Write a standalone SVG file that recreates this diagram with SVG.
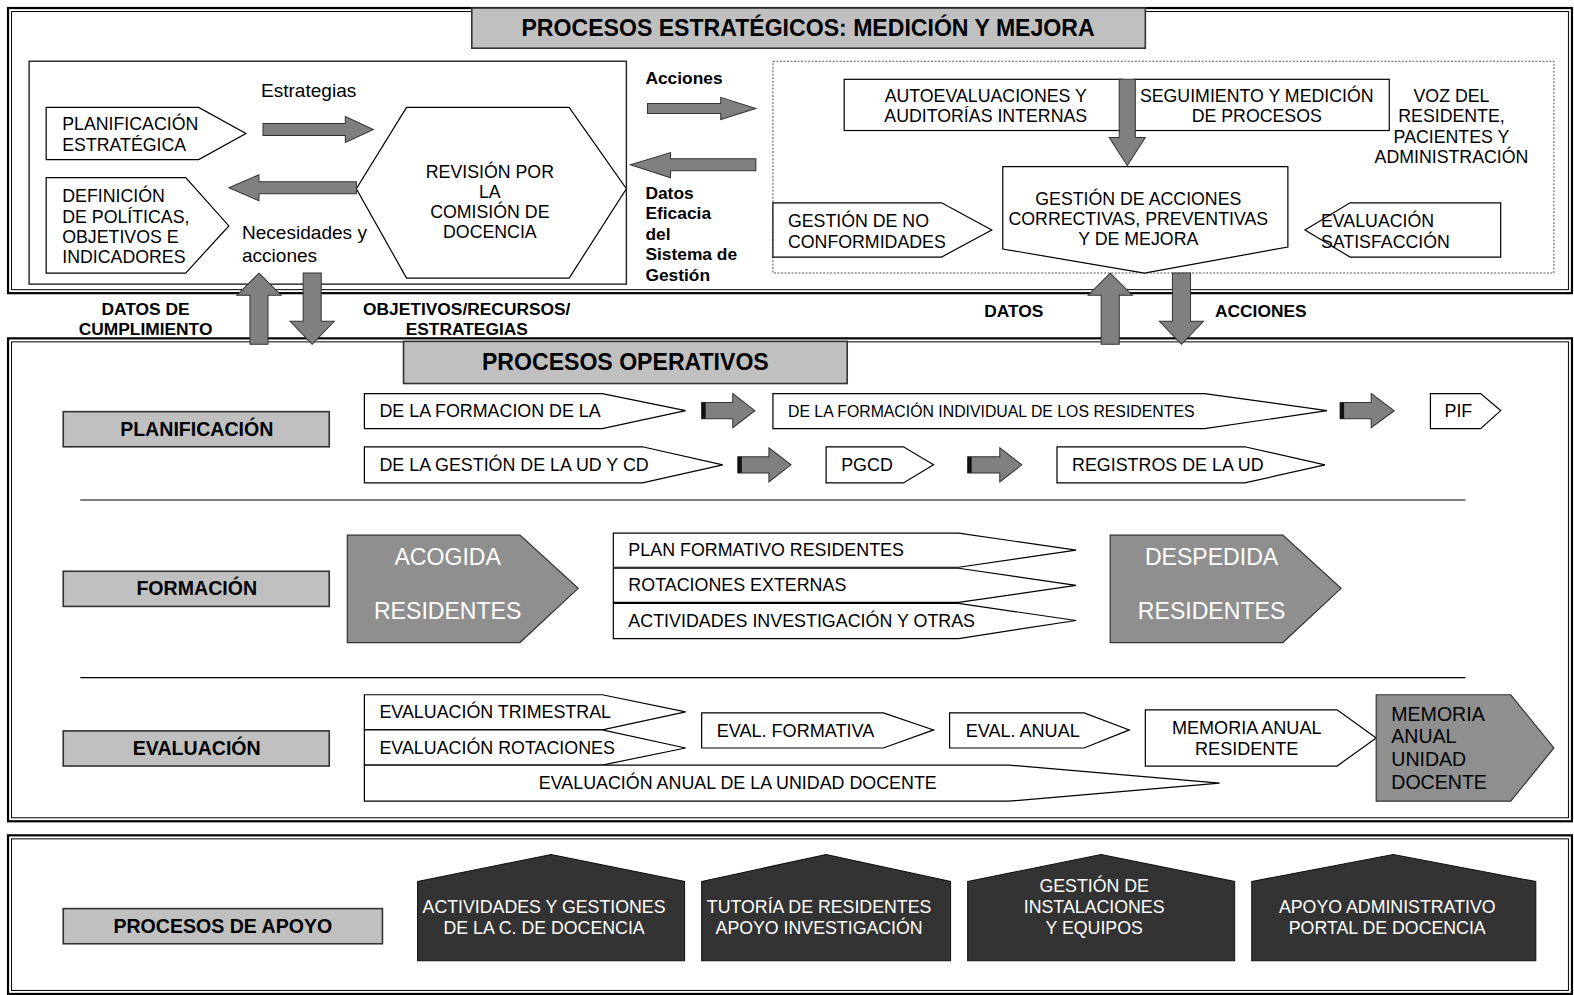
<svg xmlns="http://www.w3.org/2000/svg" width="1574" height="995" viewBox="0 0 1574 995">
<style>
.t{font-family:"Liberation Sans",Arial,sans-serif;font-size:17.7px;fill:#000}
.b{font-weight:bold}
.c{text-anchor:middle}
.s{font-size:17.8px}
.h{font-size:23px}
.lb{font-size:19.5px}
.bl{font-size:17.3px}
.box{fill:#fff;stroke:#000;stroke-width:1.2}
.lbl{fill:#c0c0c0;stroke:#333;stroke-width:1.6}
.arr{fill:#808080;stroke:#333;stroke-width:1}
.mid{fill:#8f8f8f;stroke:#333;stroke-width:1.2}
.dark{fill:#333;stroke:#111;stroke-width:1}
.fo{fill:none;stroke:#000;stroke-width:2.2}
.fi{fill:none;stroke:#000;stroke-width:1}
.sep{stroke:#000;stroke-width:1.2}
.w{fill:#fff}
</style>
<rect width="1574" height="995" fill="#fff"/>
<g transform="scale(1.0038,1.004)">
<!-- frames -->
<g id="frames">
<rect class="fo" x="8" y="8" width="1558" height="284"/>
<rect class="fi" x="11.5" y="11.5" width="1551" height="277"/>
<rect class="fo" x="8" y="337" width="1558" height="481"/>
<rect class="fi" x="11.5" y="340.5" width="1551" height="474"/>
<rect class="fo" x="8" y="832" width="1558" height="158"/>
<rect class="fi" x="11.5" y="835.5" width="1551" height="151"/>
</g>

<g id="titulo-estrategicos">
<rect class="lbl" x="470" y="8" width="671" height="40"/>
<text class="t b c h" x="805" y="36">PROCESOS ESTRATÉGICOS: MEDICIÓN Y MEJORA</text>
</g>

<g id="caja-izquierda">
<rect fill="none" stroke="#222" stroke-width="1.4" x="29" y="61" width="595" height="222"/>
<text class="t" x="260" y="97" style="font-size:19px">Estrategias</text>
<text class="t" x="241" y="238" style="font-size:19px">Necesidades y</text>
<text class="t" x="241" y="261" style="font-size:19px">acciones</text>
</g>

<g id="planificacion-estrategica">
<polygon class="box" points="46,107 198,107 245,133 198,159 46,159"/>
<text class="t" x="62" y="129">PLANIFICACIÓN</text>
<text class="t" x="62" y="150">ESTRATÉGICA</text>
</g>

<g id="definicion">
<polygon class="box" points="46,177 185,177 228,225 185,272 46,272"/>
<text class="t" x="62" y="201">DEFINICIÓN</text>
<text class="t" x="62" y="222">DE POLÍTICAS,</text>
<text class="t" x="62" y="242">OBJETIVOS E</text>
<text class="t" x="62" y="262">INDICADORES</text>
</g>

<g id="revision">
<polygon class="box" points="405,107 567,107 624,188 567,277 405,277 355,188"/>
<text class="t c" x="488" y="177">REVISIÓN POR</text>
<text class="t c" x="488" y="197">LA</text>
<text class="t c" x="488" y="217">COMISIÓN DE</text>
<text class="t c" x="488" y="237">DOCENCIA</text>
</g>

<g id="textos-centro">
<text class="t b bl" x="643" y="84">Acciones</text>
<text class="t b bl" x="643" y="198">Datos</text>
<text class="t b bl" x="643" y="218">Eficacia</text>
<text class="t b bl" x="643" y="239">del</text>
<text class="t b bl" x="643" y="259">Sistema de</text>
<text class="t b bl" x="643" y="280">Gestión</text>
</g>

<g id="caja-derecha">
<rect fill="none" stroke="#555" stroke-width="1" stroke-dasharray="2,1.5" x="770" y="61" width="778" height="211"/>
</g>

<g id="autoevaluaciones">
<rect class="box" x="841" y="79" width="277" height="51"/>
<text class="t c" x="982" y="102">AUTOEVALUACIONES Y</text>
<text class="t c" x="982" y="122">AUDITORÍAS INTERNAS</text>
</g>

<g id="seguimiento">
<rect class="box" x="1130" y="79" width="254" height="51"/>
<text class="t c" x="1252" y="102">SEGUIMIENTO Y MEDICIÓN</text>
<text class="t c" x="1252" y="122">DE PROCESOS</text>
</g>

<g id="voz">
<text class="t c" x="1446" y="102">VOZ DEL</text>
<text class="t c" x="1446" y="122">RESIDENTE,</text>
<text class="t c" x="1446" y="142">PACIENTES Y</text>
<text class="t c" x="1446" y="162">ADMINISTRACIÓN</text>
</g>

<g id="gestion-acciones">
<polygon class="box" points="999,166 1283,166 1283,246 1140,272 999,248"/>
<text class="t c" x="1134" y="204">GESTIÓN DE ACCIONES</text>
<text class="t c" x="1134" y="224">CORRECTIVAS, PREVENTIVAS</text>
<text class="t c" x="1134" y="244">Y DE MEJORA</text>
</g>

<g id="no-conformidades">
<polygon class="box" points="770,202 938,202 988,229 938,256 770,256"/>
<text class="t" x="785" y="226">GESTIÓN DE NO</text>
<text class="t" x="785" y="247">CONFORMIDADES</text>
</g>

<g id="satisfaccion">
<polygon class="box" points="1300,229 1345,202 1495,202 1495,256 1345,256"/>
<text class="t" x="1316" y="226">EVALUACIÓN</text>
<text class="t" x="1316" y="247">SATISFACCIÓN</text>
</g>

<g id="etiquetas-intermedias">
<text class="t b c bl" x="145" y="314">DATOS DE</text>
<text class="t b c bl" x="145" y="334">CUMPLIMIENTO</text>
<text class="t b c bl" x="465" y="314">OBJETIVOS/RECURSOS/</text>
<text class="t b c bl" x="465" y="334">ESTRATEGIAS</text>
<text class="t b c bl" x="1010" y="316">DATOS</text>
<text class="t b c bl" x="1256" y="316">ACCIONES</text>
</g>

<!-- operativos -->
<g id="titulo-operativos">
<rect class="lbl" x="402" y="340" width="442" height="42"/>
<text class="t b c h" x="623" y="369">PROCESOS OPERATIVOS</text>
</g>

<g id="lbl-planificacion">
<rect class="lbl" x="63" y="410" width="265" height="35"/>
<text class="t b c lb" x="196" y="434">PLANIFICACIÓN</text>
</g>
<g id="p-formacion-la">
<polygon class="box" points="363,392 600,392 683,409 600,427 363,427"/>
<text class="t s" x="378" y="415">DE LA FORMACION DE LA</text>
</g>
<g id="p-formacion-individual">
<polygon class="box" points="770,392 1200,392 1322,409 1200,427 770,427"/>
<text class="t" x="785" y="415" style="font-size:16.5px" textLength="405" lengthAdjust="spacingAndGlyphs">DE LA FORMACIÓN INDIVIDUAL DE LOS RESIDENTES</text>
</g>
<g id="p-pif">
<polygon class="box" points="1425,392 1475,392 1495,409 1475,427 1425,427"/>
<text class="t s" x="1439" y="415">PIF</text>
</g>
<g id="p-gestion-ud">
<polygon class="box" points="363,445 640,445 720,463 640,481 363,481"/>
<text class="t s" x="378" y="469">DE LA GESTIÓN DE LA UD Y CD</text>
</g>
<g id="p-pgcd">
<polygon class="box" points="823,445 900,445 930,463 900,481 823,481"/>
<text class="t s" x="838" y="469">PGCD</text>
</g>
<g id="p-registros">
<polygon class="box" points="1053,445 1240,445 1320,463 1240,481 1053,481"/>
<text class="t s" x="1068" y="469">REGISTROS DE LA UD</text>
</g>
<line class="sep" x1="80" y1="498" x2="1460" y2="498"/>

<g id="lbl-formacion">
<rect class="lbl" x="63" y="569" width="265" height="35"/>
<text class="t b c lb" x="196" y="593">FORMACIÓN</text>
</g>
<g id="acogida">
<polygon class="mid" points="346,533 518,533 576,586 518,640 346,640"/>
<text class="t c w h" x="446" y="563">ACOGIDA</text>
<text class="t c w h" x="446" y="617">RESIDENTES</text>
</g>
<g id="plan-formativo">
<polygon class="box" points="611,531 955,531 1072,548 955,565 611,565"/>
<text class="t s" x="626" y="554">PLAN FORMATIVO RESIDENTES</text>
</g>
<g id="rotaciones-externas">
<polygon class="box" points="611,566 955,566 1072,583 955,600 611,600"/>
<text class="t s" x="626" y="589">ROTACIONES EXTERNAS</text>
</g>
<g id="actividades-investigacion">
<polygon class="box" points="611,601 955,601 1072,618 955,636 611,636"/>
<text class="t s" x="626" y="625">ACTIVIDADES INVESTIGACIÓN Y OTRAS</text>
</g>
<g id="despedida">
<polygon class="mid" points="1106,533 1278,533 1336,586 1278,640 1106,640"/>
<text class="t c w h" x="1207" y="563">DESPEDIDA</text>
<text class="t c w h" x="1207" y="617">RESIDENTES</text>
</g>
<line class="sep" x1="80" y1="675" x2="1460" y2="675"/>

<g id="lbl-evaluacion">
<rect class="lbl" x="63" y="728" width="265" height="35"/>
<text class="t b c lb" x="196" y="752">EVALUACIÓN</text>
</g>
<g id="eval-trimestral">
<polygon class="box" points="363,692 600,692 683,709 600,727 363,727"/>
<text class="t s" x="378" y="715">EVALUACIÓN TRIMESTRAL</text>
</g>
<g id="eval-rotaciones">
<polygon class="box" points="363,727 600,727 683,745 600,762 363,762"/>
<text class="t s" x="378" y="751">EVALUACIÓN ROTACIONES</text>
</g>
<g id="eval-anual-unidad">
<polygon class="box" points="363,762 1005,762 1215,780 1005,798 363,798"/>
<text class="t c s" x="735" y="786">EVALUACIÓN ANUAL DE LA UNIDAD DOCENTE</text>
</g>
<g id="eval-formativa">
<polygon class="box" points="699,710 880,710 930,727 880,745 699,745"/>
<text class="t" x="714" y="734" style="font-size:18px">EVAL. FORMATIVA</text>
</g>
<g id="eval-anual">
<polygon class="box" points="946,710 1080,710 1125,727 1080,745 946,745"/>
<text class="t" x="962" y="734" style="font-size:18px">EVAL. ANUAL</text>
</g>
<g id="memoria-residente">
<polygon class="box" points="1141,707 1332,707 1371,735 1332,763 1141,763"/>
<text class="t c" x="1242" y="731" style="font-size:18px">MEMORIA ANUAL</text>
<text class="t c" x="1242" y="752" style="font-size:18px">RESIDENTE</text>
</g>
<g id="memoria-unidad">
<polygon class="mid" points="1371,692 1505,692 1548,745 1505,798 1371,798"/>
<text class="t" x="1386" y="718" style="font-size:19.5px">MEMORIA</text>
<text class="t" x="1386" y="740" style="font-size:19.5px">ANUAL</text>
<text class="t" x="1386" y="763" style="font-size:19.5px">UNIDAD</text>
<text class="t" x="1386" y="786" style="font-size:19.5px">DOCENTE</text>
</g>

<!-- apoyo -->
<g id="lbl-apoyo">
<rect class="lbl" x="63" y="905" width="318" height="35"/>
<text class="t b c lb" x="222" y="929">PROCESOS DE APOYO</text>
</g>
<g id="apoyo-actividades">
<polygon class="dark" points="416,878 549,851 682,878 682,957 416,957"/>
<text class="t c w" x="542" y="909">ACTIVIDADES Y GESTIONES</text>
<text class="t c w" x="542" y="930">DE LA C. DE DOCENCIA</text>
</g>
<g id="apoyo-tutoria">
<polygon class="dark" points="699,878 823,851 947,878 947,957 699,957"/>
<text class="t c w" x="816" y="909">TUTORÍA DE RESIDENTES</text>
<text class="t c w" x="816" y="930">APOYO INVESTIGACIÓN</text>
</g>
<g id="apoyo-instalaciones">
<polygon class="dark" points="964,878 1097,851 1230,878 1230,957 964,957"/>
<text class="t c w" x="1090" y="888">GESTIÓN DE</text>
<text class="t c w" x="1090" y="909">INSTALACIONES</text>
<text class="t c w" x="1090" y="930">Y EQUIPOS</text>
</g>
<g id="apoyo-administrativo">
<polygon class="dark" points="1247,878 1388,851 1530,878 1530,957 1247,957"/>
<text class="t c w" x="1382" y="909">APOYO ADMINISTRATIVO</text>
<text class="t c w" x="1382" y="930">PORTAL DE DOCENCIA</text>
</g>

<!-- connectors -->
<g id="connectors">
<polygon class="arr" points="262,123 344,123 344,116 372,129 344,142 344,135 262,135"/>
<polygon class="arr" points="355,181 258,181 258,174 228,187 258,200 258,193 355,193"/>
<polygon class="arr" points="645,103 718,103 718,97 753,108 718,119 718,113 645,113"/>
<polygon class="arr" points="753,158 668,158 668,152 628,164 668,177 668,170 753,170"/>
<polygon class="arr" points="1115,79 1131,79 1131,137 1141,137 1123,165 1105,137 1115,137"/>
<polygon class="arr" points="258,272 280,294 267,294 267,343 249,343 249,294 236,294"/>
<polygon class="arr" points="302,272 320,272 320,320 333,320 311,343 289,320 302,320"/>
<polygon class="arr" points="1106,272 1128,294 1115,294 1115,343 1097,343 1097,294 1084,294"/>
<polygon class="arr" points="1168,272 1186,272 1186,320 1199,320 1177,343 1155,320 1168,320"/>
<g id="flechas-planificacion">
<polygon class="arr" points="699,401 730,401 730,392 752,409 730,426 730,417 699,417"/>
<rect x="699" y="401" width="4" height="16" fill="#111"/>
<polygon class="arr" points="1335,401 1366,401 1366,392 1389,409 1366,426 1366,417 1335,417"/>
<rect x="1335" y="401" width="4" height="16" fill="#111"/>
<polygon class="arr" points="735,455 766,455 766,446 788,463 766,480 766,471 735,471"/>
<rect x="735" y="455" width="4" height="16" fill="#111"/>
<polygon class="arr" points="964,455 996,455 996,446 1018,463 996,480 996,471 964,471"/>
<rect x="964" y="455" width="4" height="16" fill="#111"/>
</g>
</g>
</g>
</svg>
